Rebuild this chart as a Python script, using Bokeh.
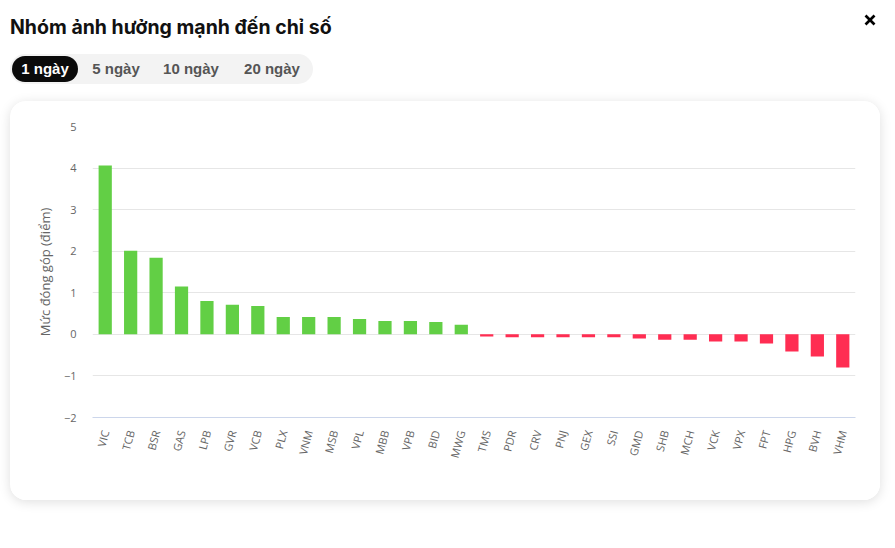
import math
from bokeh.plotting import figure
from bokeh.models import ColumnDataSource, Div, FixedTicker, Range1d
from bokeh.layouts import column
from bokeh.embed import file_html
from bokeh.resources import INLINE

# ---- data ----
tickers = ["VIC", "TCB", "BSR", "GAS", "LPB", "GVR", "VCB", "PLX", "VNM", "MSB",
           "VPL", "MBB", "VPB", "BID", "MWG", "TMS", "PDR", "CRV", "PNJ", "GEX",
           "SSI", "GMD", "SHB", "MCH", "VCK", "VPX", "FPT", "HPG", "BVH", "VHM"]
contrib = [4.06, 2.01, 1.84, 1.15, 0.80, 0.71, 0.68, 0.42, 0.42, 0.42,
           0.37, 0.32, 0.32, 0.30, 0.23, -0.05, -0.07, -0.07, -0.07, -0.07,
           -0.07, -0.10, -0.13, -0.13, -0.17, -0.17, -0.22, -0.41, -0.53, -0.80]
y_ticks = [-2, -1, 0, 1, 2, 3, 4, 5]
title_text = "Nhóm ảnh hưởng mạnh đến chỉ số"
tab_labels = ["1 ngày", "5 ngày", "10 ngày", "20 ngày"]
y_label = "Mức đóng góp (điểm)"

POS = "#62CF45"
NEG = "#FF2D52"
colors = [POS if v >= 0 else NEG for v in contrib]
src = ColumnDataSource(dict(t=tickers, v=contrib, c=colors))

# ---- header ----
tab_centers = [35, 106, 181, 262]
tabs_html = ""
for i, (lab, cx) in enumerate(zip(tab_labels, tab_centers)):
    if i == 0:
        tabs_html += ('<div style="position:absolute;left:2px;top:2px;width:66px;height:26px;'
                      'border-radius:13px;background:#0b0b0b;color:#fff;font-weight:700;'
                      'font-size:15px;line-height:26px;text-align:center;">%s</div>' % lab)
    else:
        tabs_html += ('<div style="position:absolute;left:%dpx;top:2px;width:80px;height:26px;'
                      'color:#555;font-weight:700;font-size:15px;line-height:26px;'
                      'text-align:center;">%s</div>' % (cx - 40, lab))

header_html = f"""
<div style="position:relative;width:895px;height:101px;font-family:'Liberation Sans',Arial,sans-serif;">
  <div style="position:absolute;left:10px;top:15px;font-family:Inter,sans-serif;font-size:19.5px;line-height:24px;font-weight:700;color:#111;white-space:nowrap;">{title_text}</div>
  <svg style="position:absolute;left:864px;top:14px;" width="12" height="12" viewBox="0 0 12 12">
    <line x1="1.5" y1="1.5" x2="10.5" y2="10.5" stroke="#000" stroke-width="2.6"/>
    <line x1="10.5" y1="1.5" x2="1.5" y2="10.5" stroke="#000" stroke-width="2.6"/>
  </svg>
  <div style="position:absolute;left:10px;top:54px;width:303px;height:30px;border-radius:15px;background:#f3f3f3;">
    {tabs_html}
  </div>
</div>
"""
header = Div(text=header_html, width=895, height=101, margin=0)

# ---- chart ----
p = figure(x_range=tickers, y_range=Range1d(-2, 5), width=870, height=399,
           output_backend="svg", toolbar_location=None,
           min_border_left=82, min_border_right=25, min_border_top=25, min_border_bottom=83,
           styles={"margin-left": "10px", "border-radius": "16px", "overflow": "hidden",
                   "box-shadow": "0 2px 12px rgba(0,0,0,0.13)"})
p.outline_line_color = None
p.background_fill_color = "white"
p.border_fill_color = "white"

p.vbar(x="t", top="v", bottom=0, width=0.52, color="c", line_color=None, source=src)

p.xgrid.grid_line_color = None
p.ygrid.grid_line_color = "#e6e6e6"
p.yaxis.ticker = FixedTicker(ticks=y_ticks)

ya = p.yaxis[0]
ya.axis_line_color = None
ya.major_tick_line_color = None
ya.minor_tick_line_color = None
ya.major_label_text_font = "Open Sans"
ya.major_label_text_font_size = "11px"
ya.major_label_text_color = "#666666"
ya.major_label_standoff = 10
ya.axis_label = y_label
ya.axis_label_text_font = "Open Sans"
ya.axis_label_text_font_size = "13px"
ya.axis_label_text_font_style = "normal"
ya.axis_label_text_color = "#666666"
ya.axis_label_standoff = 7

xa = p.xaxis[0]
xa.axis_line_color = "#ccd6eb"
xa.major_tick_line_color = None
xa.minor_tick_line_color = None
xa.major_label_orientation = math.radians(75)
xa.major_label_text_font = "Open Sans"
xa.major_label_text_font_size = "11px"
xa.major_label_text_color = "#666666"
xa.major_label_standoff = 7

layout = column(header, p, spacing=0)
open("out.html", "w").write(file_html(layout, INLINE))
